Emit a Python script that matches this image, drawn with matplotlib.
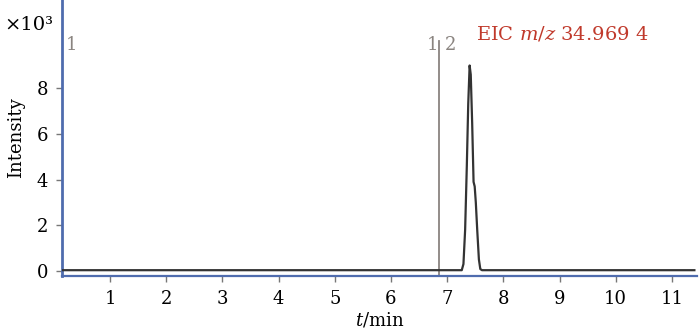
"""
EIC chromatogram, m/z 34.969 4.
"""

import matplotlib
matplotlib.use("Agg")
import matplotlib.pyplot as plt


TIME_MIN = [0.15, 7.26, 7.29, 7.32, 7.35, 7.375, 7.40, 7.42, 7.445, 7.47, 7.49, 7.51, 7.535, 7.565, 7.59, 7.62, 11.40]
INTENSITY_K = [0.03, 0.03, 0.3, 1.8, 4.6, 7.3, 9.0, 8.6, 6.5, 3.9, 3.7, 3.0, 1.8, 0.5, 0.08, 0.03, 0.03]

SEGMENT_TIMES = [0.13, 6.85]
X_TICKS = [1, 2, 3, 4, 5, 6, 7, 8, 9, 10, 11]
Y_TICKS = [0, 2, 4, 6, 8]

TITLE = "EIC $m/z$ 34.969 4"


def main() -> None:
    plt.rcParams["font.family"] = ["DejaVu Serif", "DejaVu Sans"]
    plt.rcParams["mathtext.fontset"] = "dejavuserif"

    fig = plt.figure(figsize=(7.0, 3.32), dpi=100)
    ax = fig.add_axes([0.0886, 0.169, 0.9074, 0.831])

    blue = "#4f6cae"
    gray = "#8a8480"

    # segment markers
    for t in SEGMENT_TIMES:
        ax.axvline(t, ymin=0.0, ymax=0.85, color=gray, lw=1.3, zorder=1)

    ax.plot(TIME_MIN, INTENSITY_K, color="#333333", lw=1.6, zorder=3)

    ax.set_xlim(0.146, 11.45)
    ax.set_ylim(-0.22, 11.87)
    ax.set_xticks(X_TICKS)
    ax.set_yticks(Y_TICKS)

    for side in ("top", "right"):
        ax.spines[side].set_visible(False)
    ax.spines["left"].set_color(blue)
    ax.spines["left"].set_linewidth(2.0)
    ax.spines["bottom"].set_color(blue)
    ax.spines["bottom"].set_linewidth(1.6)

    ax.tick_params(axis="both", direction="out", length=4, width=1,
                   color="#777777", labelsize=13, pad=6)

    ax.set_xlabel("$t$/min", fontsize=13, labelpad=2)
    ax.set_ylabel("Intensity", fontsize=13, labelpad=8)

    fig.text(0.006, 0.91, "×10³", fontsize=14)

    ax.text(0.22, 9.7, "1", color=gray, fontsize=13)
    ax.text(6.64, 9.7, "1", color=gray, fontsize=13)
    ax.text(6.95, 9.7, "2", color=gray, fontsize=13)

    ax.text(7.52, 10.15, TITLE, color="#c0392b", fontsize=14)

    fig.savefig("out.png", dpi=100)


if __name__ == "__main__":
    main()
